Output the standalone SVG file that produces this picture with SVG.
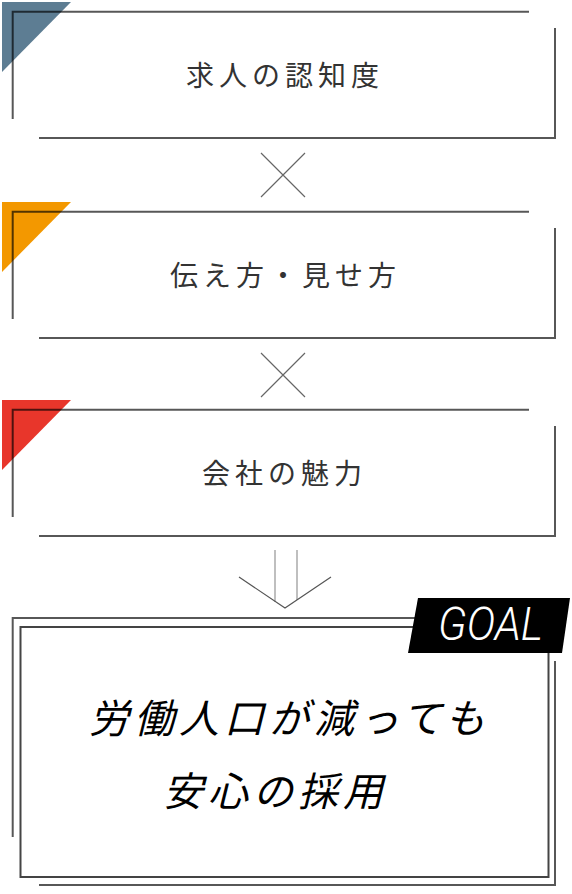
<svg xmlns="http://www.w3.org/2000/svg" width="572" height="894" viewBox="0 0 572 894">
<style>
.ln{fill:none;stroke:#000;stroke-opacity:0.66;stroke-width:2}
.x{fill:none;stroke:#666;stroke-width:1.2}
.lbl{font-family:"Noto Sans CJK JP","Noto Sans",sans-serif;font-size:28px;font-weight:400;fill:#333;letter-spacing:5px;dominant-baseline:central}
.goal{font-family:"Noto Sans CJK JP","Noto Sans",sans-serif;font-size:40px;font-weight:400;fill:#000;letter-spacing:5px;font-style:italic;dominant-baseline:central}
</style>
<rect width="572" height="894" fill="#fff"/>
<g id="node1">
<polygon points="2,2 71,2 2,72" fill="#5d7d93"/>
<path class="ln" d="M12.7,119 V11.7 H529 M555,28 V138 H39"/>
<text class="lbl" x="186" y="74">求人の認知度</text>
</g>
<g id="node2">
<polygon points="2,202 71,202 2,272" fill="#f39800"/>
<path class="ln" d="M12.7,319 V211.7 H529 M555,228 V338 H39"/>
<text class="lbl" x="170" y="274">伝え方・見せ方</text>
</g>
<g id="node3">
<polygon points="2,400 71,400 2,470" fill="#e8362b"/>
<path class="ln" d="M12.7,517 V409.7 H529 M555,426 V536 H39"/>
<text class="lbl" x="202" y="472">会社の魅力</text>
</g>
<g id="connectors">
<path class="x" d="M261,153 L305,197 M305,153 L261,197"/>
<path class="x" d="M261,353 L305,397 M305,353 L261,397"/>
<path d="M275,550 V602 M297,550 V600" fill="none" stroke="#aaa" stroke-width="1.5"/>
<path d="M239,577 L285,608 L331,577" fill="none" stroke="#555" stroke-width="1.2"/>
</g>
<g id="goal">
<path class="ln" d="M12.7,837 V618 H529 M555,661 V885 H39"/>
<rect x="20.5" y="627" width="528" height="250" fill="none" stroke="#444" stroke-width="2"/>
<polygon points="418,598 570,598 562,653 408,653" fill="#000"/>
<text x="438" y="640" font-family="Roboto,'Liberation Sans',sans-serif" font-weight="300" font-style="italic" font-size="46" fill="#fff" textLength="105" lengthAdjust="spacingAndGlyphs">GOAL</text>
<text class="goal" x="89" y="716">労働人口が減っても</text>
<text class="goal" x="163" y="789">安心の採用</text>
</g>
</svg>
